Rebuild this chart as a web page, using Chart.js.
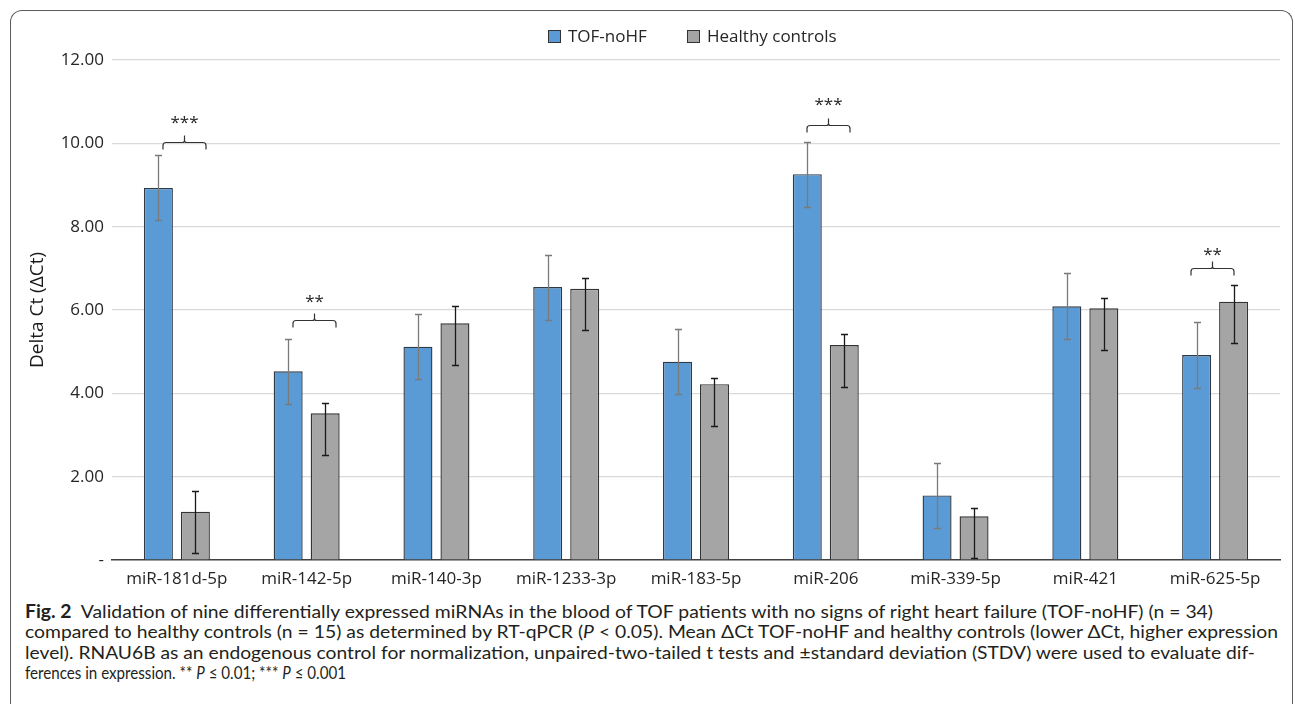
<!DOCTYPE html>
<html>
<head>
<meta charset="utf-8">
<script src="https://cdn.jsdelivr.net/npm/chart.js@4.4.1/dist/chart.umd.min.js"></script>
<style>
html, body { margin:0; padding:0; background:#fff; width:1295px; height:704px; overflow:hidden; font-family:'Open Sans', sans-serif; }
#frame { position:absolute; left:10px; top:10px; width:1281px; height:740px; border:1.5px solid #5c5c5c; border-bottom:none; border-radius:12px 12px 0 0; }
#wrap { position:absolute; left:0; top:0; width:1295px; height:600px; }
.lg-box { position:absolute; top:30px; width:11px; height:11px; border:1.5px solid #333; }
.lg-txt { position:absolute; top:24px; font-size:17px; line-height:24px; color:#262626; white-space:nowrap; }
.cap { position:absolute; left:25px; font-family:Lato, sans-serif; font-size:18px; line-height:20px; color:#231f20; white-space:nowrap; transform-origin:0 50%; }
.cap b { font-weight:700; }
</style>
</head>
<body>
<div id="frame"></div>
<div id="wrap"><canvas id="chart"></canvas></div>

<span class="lg-box" style="left:548px;background:#5b9bd5"></span>
<span class="lg-txt" style="left:568px">TOF-noHF</span>
<span class="lg-box" style="left:687px;background:#a5a5a5"></span>
<span class="lg-txt" style="left:707px">Healthy controls</span>

<div class="cap" data-w="1188" style="top:601px"><b>Fig. 2</b>&nbsp;&nbsp;Validation of nine differentially expressed miRNAs in the blood of TOF patients with no signs of right heart failure (TOF-noHF) (n = 34)</div>
<div class="cap" data-w="1253" style="top:621.3px">compared to healthy controls (n = 15) as determined by RT-qPCR (<i>P</i> &lt; 0.05). Mean ΔCt TOF-noHF and healthy controls (lower ΔCt, higher expression</div>
<div class="cap" data-w="1230" style="top:641.6px">level). RNAU6B as an endogenous control for normalization, unpaired-two-tailed t tests and ±standard deviation (STDV) were used to evaluate dif-</div>
<div class="cap" data-w="321" style="top:662px">ferences in expression. ** <i>P</i> ≤ 0.01; *** <i>P</i> ≤ 0.001</div>

<script>
// --- Data ---
const categories = ['miR-181d-5p', 'miR-142-5p', 'miR-140-3p', 'miR-1233-3p', 'miR-183-5p', 'miR-206', 'miR-339-5p', 'miR-421', 'miR-625-5p'];
const tofMean  = [8.93, 4.53, 5.12, 6.55, 4.76, 9.26, 1.55, 6.09, 4.92];
const tofHigh  = [9.72, 5.31, 5.91, 7.33, 5.55, 10.03, 2.34, 6.88, 5.71];
const tofLow   = [8.15, 3.74, 4.34, 5.76, 3.98, 8.47, 0.77, 5.31, 4.14];
const ctrlMean = [1.16, 3.52, 5.68, 6.51, 4.22, 5.16, 1.05, 6.04, 6.20];
const ctrlHigh = [1.65, 3.78, 6.09, 6.77, 4.38, 5.42, 1.26, 6.28, 6.59];
const ctrlLow  = [0.16, 2.52, 4.68, 5.51, 3.21, 4.16, 0.06, 5.05, 5.21];
const yMin = 0, yMax = 12, yStep = 2;

// significance brackets
const sigIndex     = [0, 1, 5, 8];
const sigLabel     = ['***', '**', '***', '**'];
const sigLevel     = [10.03, 5.77, 10.45, 7.0];
const sigTextLevel = [10.57, 6.28, 11.01, 7.41];
const sigShift = [7.5, 7, 2, -3.5];   // px nudge from group centre

const FONT = "'Open Sans', sans-serif";

// --- Plugins ---
const errorBars = {
    id: 'errorBars',
    afterDatasetsDraw(chart) {
        const ctx = chart.ctx, y = chart.scales.y;
        chart.data.datasets.forEach((ds, di) => {
            const meta = chart.getDatasetMeta(di);
            ctx.save();
            ctx.strokeStyle = ds.errColor;
            ctx.lineWidth = 1.3;
            meta.data.forEach((bar, i) => {
                const x = Math.round(bar.x) + 0.5;
                const yh = Math.round(y.getPixelForValue(ds.errHigh[i])) + 0.5;
                const yl = Math.round(y.getPixelForValue(ds.errLow[i])) + 0.5;
                ctx.beginPath();
                ctx.moveTo(x, yh); ctx.lineTo(x, yl);
                ctx.moveTo(x - 3.5, yh); ctx.lineTo(x + 3.5, yh);
                ctx.moveTo(x - 3.5, yl); ctx.lineTo(x + 3.5, yl);
                ctx.stroke();
            });
            ctx.restore();
        });
    }
};

const sigBrackets = {
    id: 'sigBrackets',
    afterDatasetsDraw(chart) {
        const ctx = chart.ctx, y = chart.scales.y;
        const a = chart.getDatasetMeta(0).data, b = chart.getDatasetMeta(1).data;
        ctx.save();
        ctx.strokeStyle = '#333';
        ctx.lineWidth = 1.2;
        ctx.fillStyle = '#262626';
        ctx.font = '17px ' + FONT;
        ctx.textAlign = 'center';
        ctx.textBaseline = 'middle';
        sigIndex.forEach((ci, k) => {
            const xm = Math.round((a[ci].x + b[ci].x) / 2 + sigShift[k]) + 0.5;
            const x1 = xm - 21.5, x2 = xm + 21.5;
            const yl = Math.round(y.getPixelForValue(sigLevel[k])) + 0.5;
            ctx.beginPath();
            ctx.moveTo(x1, yl + 7); ctx.lineTo(x1, yl + 3);
            ctx.quadraticCurveTo(x1, yl, x1 + 3, yl);
            ctx.lineTo(xm - 2, yl);
            ctx.quadraticCurveTo(xm, yl, xm, yl - 2);
            ctx.lineTo(xm, yl - 7);
            ctx.moveTo(xm, yl - 2);
            ctx.quadraticCurveTo(xm, yl, xm + 2, yl);
            ctx.lineTo(x2 - 3, yl);
            ctx.quadraticCurveTo(x2, yl, x2, yl + 3);
            ctx.lineTo(x2, yl + 7);
            ctx.stroke();
            ctx.fillText(sigLabel[k], xm, y.getPixelForValue(sigTextLevel[k]) + 4);
        });
        ctx.restore();
    }
};

// --- Chart ---
new Chart(document.getElementById('chart'), {
    type: 'bar',
    data: {
        labels: categories,
        datasets: [
            { label: 'TOF-noHF', data: tofMean, errHigh: tofHigh, errLow: tofLow, errColor: '#7a7a7a',
              backgroundColor: '#5b9bd5', borderColor: '#2f3a47', borderWidth: 1.4 },
            { label: 'Healthy controls', data: ctrlMean, errHigh: ctrlHigh, errLow: ctrlLow, errColor: '#1a1a1a',
              backgroundColor: '#a5a5a5', borderColor: '#333333', borderWidth: 1.4 }
        ]
    },
    options: {
        responsive: true,
        maintainAspectRatio: false,
        animation: false,
        categoryPercentage: 0.57,
        barPercentage: 0.784,
        layout: { padding: { top: 60, right: 15, left: 0, bottom: 0 } },
        plugins: { legend: { display: false }, tooltip: { enabled: false } },
        scales: {
            x: {
                grid: { display: false, drawTicks: false, tickLength: 0 },
                border: { color: '#404040', width: 1.5 },
                ticks: { color: '#262626', font: { family: FONT, size: 17 }, padding: 9, maxRotation: 0 },
                afterFit(s) { s.height = 40; }
            },
            y: {
                min: yMin, max: yMax,
                grid: { color: ctx => ctx.tick.value === 0 ? 'rgba(0,0,0,0)' : '#d9d9d9', lineWidth: 1.2, drawTicks: false, tickLength: 0 },
                border: { display: false },
                ticks: { stepSize: yStep, color: '#262626', font: { family: FONT, size: 17 }, padding: 8,
                         callback: v => v === 0 ? '-' : v.toFixed(2) },
                title: { display: true, text: 'Delta Ct (ΔCt)', color: '#1a1a1a', font: { family: FONT, size: 19 }, padding: { top: 26, bottom: 0 } },
                afterFit(s) { s.width = 112; }
            }
        }
    },
    plugins: [errorBars, sigBrackets]
});

// caption lines squeezed to the widths they have in the original
document.querySelectorAll('.cap').forEach(el => {
    const w = el.getBoundingClientRect().width;
    el.style.transform = 'scaleX(' + (parseFloat(el.dataset.w) / w) + ')';
});
</script>
</body>
</html>
